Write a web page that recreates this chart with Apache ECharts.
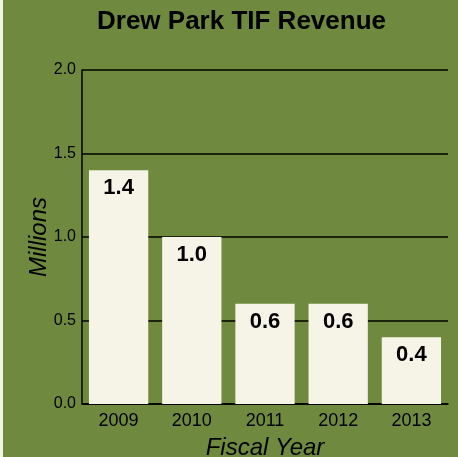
<!DOCTYPE html>
<html>
<head>
<meta charset="utf-8">
<script src="https://cdn.jsdelivr.net/npm/echarts@6/dist/echarts.min.js"></script>
<style>
  html, body { margin: 0; padding: 0; background: #f5f2e6; }
  #main { position: absolute; left: 3px; top: 0; width: 455px; height: 457px; }
</style>
</head>
<body>
<div id="main"></div>
<script>
// chart data
const years = ["2009", "2010", "2011", "2012", "2013"];
const revenue = [1.4, 1.0, 0.6, 0.6, 0.4];
const yTicks = [0, 0.5, 1.0, 1.5, 2.0];

var myChart = echarts.init(document.getElementById("main"));

var option = {
  backgroundColor: "#6f8a3f",
  textStyle: {
    fontFamily: "Liberation Sans",
  },
  title: {
    text: "Drew Park TIF Revenue",
    left: 89,
    top: 4,
    textStyle: {
      color: "#000",
      fontSize: 26,
      fontWeight: "bold",
    },
  },
  grid: {
    left: 79,
    right: 10,
    top: 70,
    bottom: 53,
    outerBoundsMode: "none",
  },
  xAxis: {
    type: "category",
    data: years,
    name: "Fiscal Year",
    nameLocation: "middle",
    nameGap: 32,
    nameTextStyle: { fontSize: 24, fontStyle: "italic", color: "#000" },
    axisTick: { show: false },
    axisLine: { lineStyle: { color: "#000", width: 1.5 } },
    axisLabel: { fontSize: 18, color: "#000", margin: 8 },
  },
  yAxis: {
    type: "value",
    min: yTicks[0],
    max: yTicks[yTicks.length - 1],
    interval: 0.5,
    name: "Millions",
    nameLocation: "middle",
    nameGap: 31,
    nameMoveOverlap: false,
    nameTextStyle: { fontSize: 24, fontStyle: "italic", color: "#000" },
    axisLine: { show: true, lineStyle: { color: "#000", width: 1.5 } },
    axisTick: { show: false },
    axisLabel: {
      fontSize: 16,
      color: "#000",
      margin: 6,
      formatter: (v) => v.toFixed(1),
    },
    splitLine: { lineStyle: { color: "#000", width: 1.5 } },
  },
  series: [
    {
      type: "bar",
      data: revenue,
      barCategoryGap: "19%",
      itemStyle: { color: "#f6f3e7" },
      label: {
        show: true,
        position: "insideTop",
        distance: 7,
        fontSize: 22,
        fontWeight: "bold",
        color: "#000",
        formatter: (p) => p.value.toFixed(1),
      },
    },
  ],
};

myChart.setOption(option);
</script>
</body>
</html>
